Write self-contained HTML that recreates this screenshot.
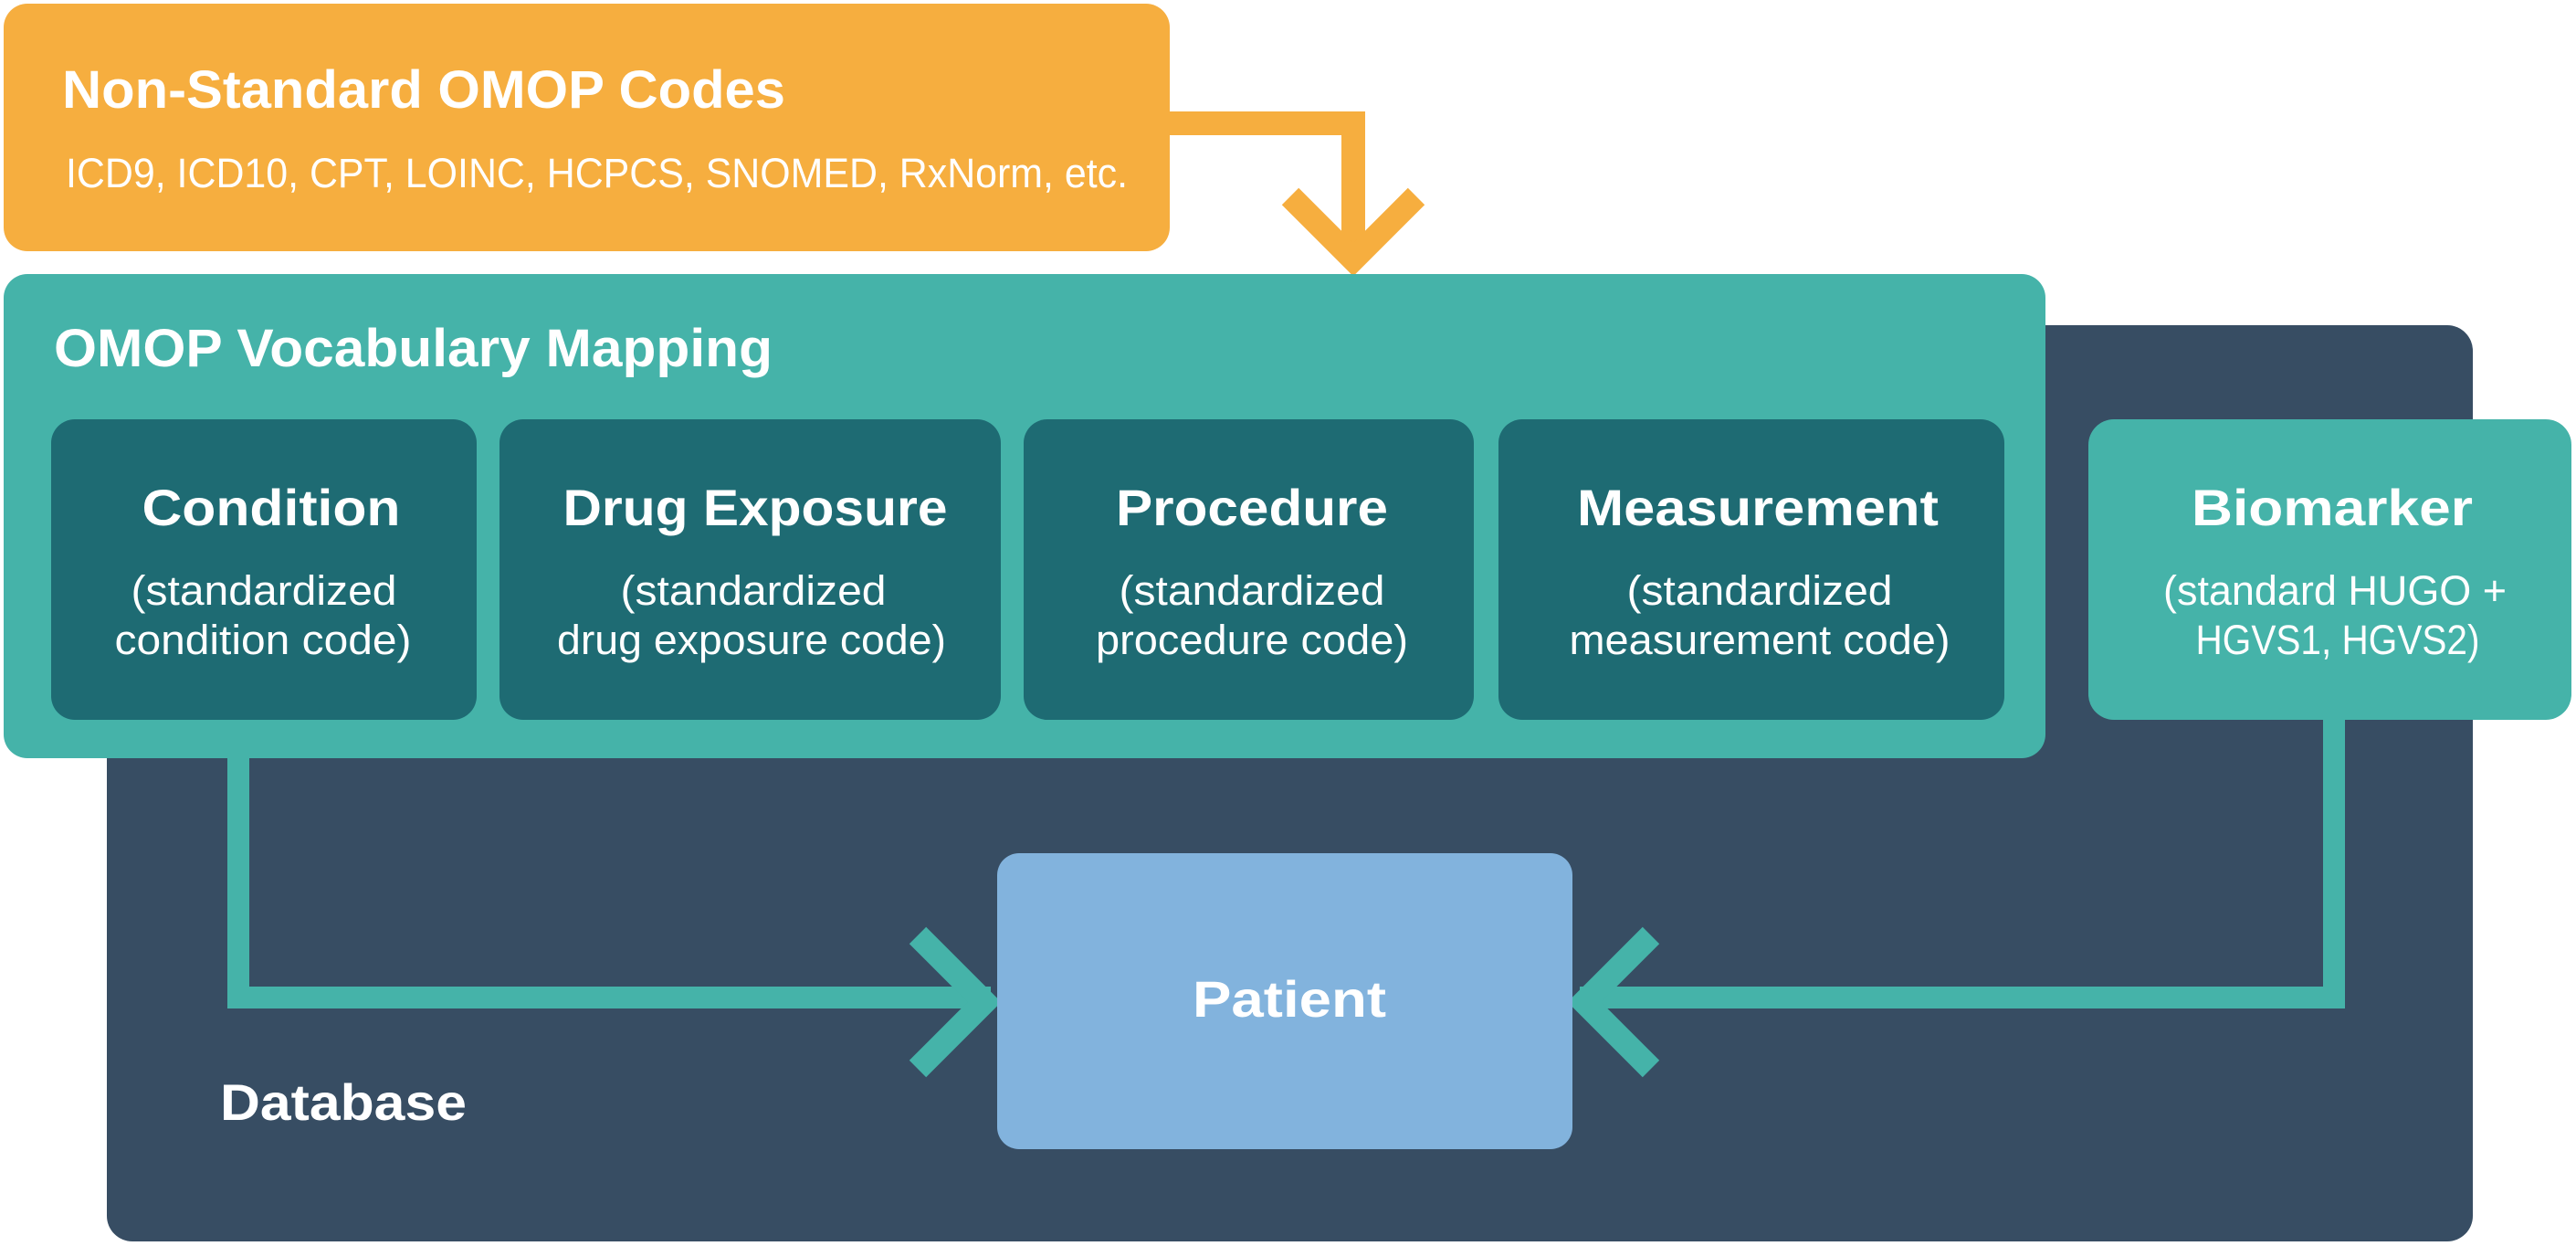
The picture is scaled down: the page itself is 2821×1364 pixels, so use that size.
<!DOCTYPE html>
<html><head><meta charset="utf-8"><style>
html,body{margin:0;padding:0;background:#fff}
svg{display:block}
text{font-family:"Liberation Sans",sans-serif;fill:#fff}
.b{font-weight:bold}
</style></head><body>
<svg width="2821" height="1364" viewBox="0 0 2821 1364" xmlns="http://www.w3.org/2000/svg">
<!-- database -->
<rect x="117" y="356" width="2591" height="1003" rx="28" fill="#374D63"/>
<!-- orange box -->
<rect x="4" y="4" width="1277" height="271" rx="26" fill="#F6AE3F"/>
<text class="b" x="68" y="118" font-size="58" textLength="792" lengthAdjust="spacingAndGlyphs">Non-Standard OMOP Codes</text>
<text x="72" y="205" font-size="45" textLength="1163" lengthAdjust="spacingAndGlyphs">ICD9, ICD10, CPT, LOINC, HCPCS, SNOMED, RxNorm, etc.</text>
<!-- orange arrow -->
<polyline points="1275,135 1482,135 1482,285" fill="none" stroke="#F6AE3F" stroke-width="26"/>
<polyline points="1413,215 1482,284 1551,215" fill="none" stroke="#F6AE3F" stroke-width="26"/>
<!-- teal box -->
<rect x="4" y="300" width="2236" height="530" rx="26" fill="#45B3A9"/>
<text class="b" x="59" y="401" font-size="58" textLength="787" lengthAdjust="spacingAndGlyphs">OMOP Vocabulary Mapping</text>
<!-- inner boxes -->
<rect x="56" y="459" width="466" height="329" rx="26" fill="#1E6B73"/>
<rect x="547" y="459" width="549" height="329" rx="26" fill="#1E6B73"/>
<rect x="1121" y="459" width="493" height="329" rx="26" fill="#1E6B73"/>
<rect x="1641" y="459" width="554" height="329" rx="26" fill="#1E6B73"/>
<rect x="2287" y="459" width="529" height="329" rx="28" fill="#45B3A9"/>
<g font-size="56" class="b" text-anchor="middle">
<text class="b" x="297" y="575" textLength="283" lengthAdjust="spacingAndGlyphs">Condition</text>
<text class="b" x="827" y="575" textLength="421" lengthAdjust="spacingAndGlyphs">Drug Exposure</text>
<text class="b" x="1371" y="575" textLength="298" lengthAdjust="spacingAndGlyphs">Procedure</text>
<text class="b" x="1925" y="575" textLength="396" lengthAdjust="spacingAndGlyphs">Measurement</text>
<text class="b" x="2554" y="575" textLength="308" lengthAdjust="spacingAndGlyphs">Biomarker</text>
</g>
<g font-size="45" text-anchor="middle">
<text x="289" y="662" textLength="291" lengthAdjust="spacingAndGlyphs">(standardized</text>
<text x="288" y="716" textLength="325" lengthAdjust="spacingAndGlyphs">condition code)</text>
<text x="825" y="662" textLength="291" lengthAdjust="spacingAndGlyphs">(standardized</text>
<text x="823" y="716" textLength="426" lengthAdjust="spacingAndGlyphs">drug exposure code)</text>
<text x="1371" y="662" textLength="291" lengthAdjust="spacingAndGlyphs">(standardized</text>
<text x="1371" y="716" textLength="342" lengthAdjust="spacingAndGlyphs">procedure code)</text>
<text x="1927" y="662" textLength="291" lengthAdjust="spacingAndGlyphs">(standardized</text>
<text x="1927" y="716" textLength="417" lengthAdjust="spacingAndGlyphs">measurement code)</text>
<text x="2557" y="662" textLength="376" lengthAdjust="spacingAndGlyphs">(standard HUGO +</text>
<text x="2560" y="716" textLength="311" lengthAdjust="spacingAndGlyphs">HGVS1, HGVS2)</text>
</g>
<!-- connectors -->
<polyline points="261,830 261,1092 1085,1092" fill="none" stroke="#45B3A9" stroke-width="24"/>
<polyline points="1005,1024 1078,1097 1005,1170" fill="none" stroke="#45B3A9" stroke-width="26"/>
<polyline points="2556,788 2556,1092 1730,1092" fill="none" stroke="#45B3A9" stroke-width="24"/>
<polyline points="1808,1024 1735,1097 1808,1170" fill="none" stroke="#45B3A9" stroke-width="26"/>
<!-- patient -->
<rect x="1092" y="934" width="630" height="324" rx="24" fill="#82B3DD"/>
<text class="b" x="1412" y="1113" font-size="56" text-anchor="middle" textLength="212" lengthAdjust="spacingAndGlyphs">Patient</text>
<text class="b" x="241" y="1226" font-size="56" textLength="270" lengthAdjust="spacingAndGlyphs">Database</text>
</svg>
</body></html>
